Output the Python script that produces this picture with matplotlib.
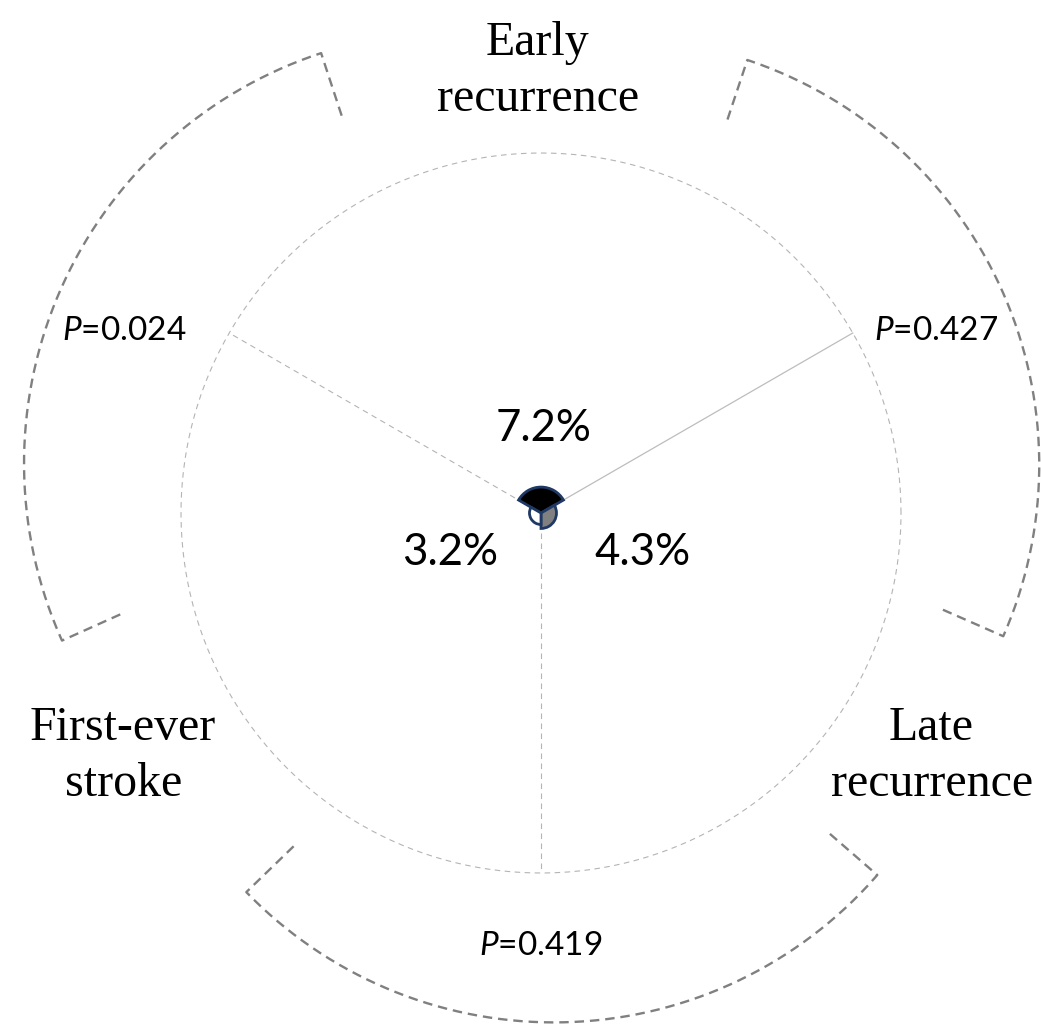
import numpy as np
import matplotlib
matplotlib.use("Agg")
import matplotlib.pyplot as plt

# data
groups = ["Early\nrecurrence", "Late\nrecurrence", "First-ever\nstroke"]
rates = [7.2, 4.3, 3.2]
rate_labels = ["7.2%", "4.3%", "3.2%"]
p_values = ["0.427", "0.419", "0.024"]
fills = ["black", "#808080", "white"]

plt.rcParams["mathtext.fontset"] = "custom"
plt.rcParams["mathtext.it"] = "Lato:italic"
plt.rcParams["mathtext.rm"] = "Lato"

fig = plt.figure(figsize=(10.41, 10.26), dpi=100)
W, H = 1041, 1026
cx, cy, px_per_unit, rmax = 541, 513, 3.6, 150
R_px = rmax * px_per_unit
ax = fig.add_axes([(cx - R_px) / W, (H - cy - R_px) / H, 2 * R_px / W, 2 * R_px / H],
                  projection="polar")
ax.set_ylim(0, rmax)
ax.set_axis_off()

# sector centres (deg) : early on top, late lower right, first-ever lower left
centres = [90, -30, 210]
ax.bar(np.deg2rad(centres), rates, width=np.deg2rad(120), bottom=0,
       color=fills, edgecolor="#1F3864", linewidth=2.0, zorder=3)

# outer reference circle at 100 and spokes
th = np.linspace(0, 2 * np.pi, 400)
ax.plot(th, np.full_like(th, 100), color="#b4b4b4", lw=0.8, dashes=(5, 4), zorder=1)
ax.plot(np.deg2rad([30, 30]), [0, 100], color="#bdbdbd", lw=0.9, zorder=1)
for a in (150, 270):
    ax.plot(np.deg2rad([a, a]), [0, 100], color="#b4b4b4", lw=0.8, dashes=(5, 4), zorder=1)


# dashed brackets around each pairwise comparison
def bracket(ccx, ccy, rad, a0, a1, tick=18.3):
    a = np.deg2rad(np.linspace(a0, a1, 200))
    x = ccx + rad * np.cos(a)
    y = ccy + rad * np.sin(a)
    x = np.concatenate([[ccx + (rad - tick) * np.cos(a[0])], x, [ccx + (rad - tick) * np.cos(a[-1])]])
    y = np.concatenate([[ccy + (rad - tick) * np.sin(a[0])], y, [ccy + (rad - tick) * np.sin(a[-1])]])
    ax.plot(np.arctan2(y, x), np.hypot(x, y), color="#808080", lw=1.7,
            dashes=(4, 2.5), clip_on=False, zorder=2)


bracket(19.9, 13.4, 118.5, -23.7, 71.6)
bracket(3.6, -22.5, 119.0, 224.1, 319.0)
bracket(-23.6, 13.75, 120.0, 108.2, 204.2)

# group labels
serif = "Liberation Serif"
label_pos = [(90.4, 122.8), (-31.9, 127.8), (210.2, 134.3)]
for name, (a, r) in zip(groups, label_pos):
    ax.text(np.deg2rad(a), r, name, family=serif, fontsize=34.5, ha="center",
            va="center", linespacing=1.36)

# rate labels
rate_pos = [(88, 23.6), (-21.4, 30.4), (203.7, 27.6)]
for lab, (a, r) in zip(rate_labels, rate_pos):
    ax.text(np.deg2rad(a), r, lab, family="Lato", fontsize=31.5, ha="center", va="center")

# p values
p_pos = [(24.7, 120.8), (269.9, 120.3), (156.4, 126.4)]
for pv, (a, r) in zip(p_values, p_pos):
    ax.text(np.deg2rad(a), r, r"$P$=" + pv, family="Lato", fontsize=24,
            ha="center", va="center")

fig.savefig("out.png", dpi=100)
